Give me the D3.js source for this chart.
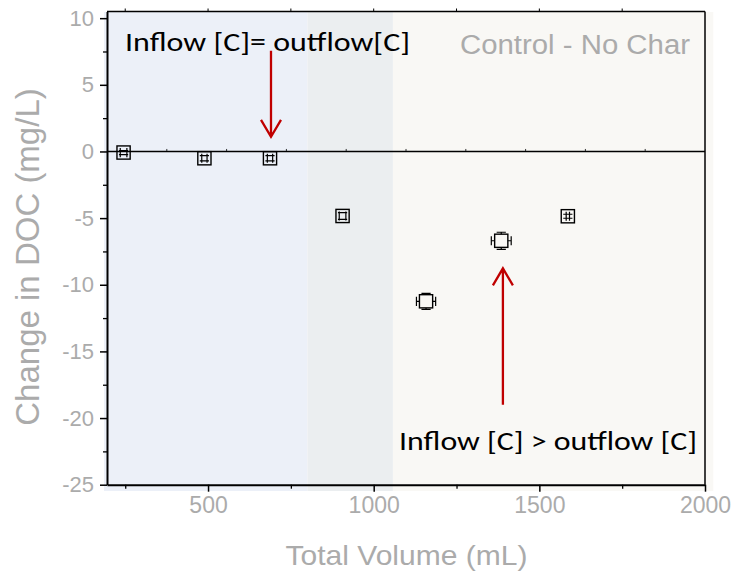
<!DOCTYPE html>
<html>
<head>
<meta charset="utf-8">
<script src="https://cdn.jsdelivr.net/npm/d3@7"></script>
<style>
  html, body { margin: 0; padding: 0; background: #ffffff; }
  svg { display: block; }
</style>
</head>
<body>
<svg id="chart" width="735" height="574"></svg>
<script>
// Measured change in dissolved organic carbon against cumulative volume
const volume     = [245, 489, 687, 906, 1158, 1385, 1586];   // mL
const volumeErr  = [10, 8, 8, 10, 29, 30, 5];
const docChange  = [-0.08, -0.51, -0.51, -4.84, -11.24, -6.7, -4.86]; // mg/L
const docErr     = [0.15, 0.2, 0.2, 0.25, 0.6, 0.64, 0.15];

const xTicks      = [500, 1000, 1500, 2000];
const xMinorTicks = [250, 750, 1250, 1750];
const yTicks      = [-25, -20, -15, -10, -5, 0, 5, 10];
const yMinorTicks = [-22.5, -17.5, -12.5, -7.5, -2.5, 2.5, 7.5];

// Shaded flow regimes along the volume axis
const zoneEdges  = [195, 800, 1058, 2025];
const zoneColors = ["#ECF0F8", "#EBEEF0", "#F9F8F5"];

const xTitle = "Total Volume (mL)";
const yTitle = "Change in DOC (mg/L)";
const panelLabel = "Control - No Char";
const noteEqual = "Inflow [C]= outflow[C]";
const noteGreater = "Inflow [C] > outflow [C]";

const svg = d3.select("#chart");
const x = d3.scaleLinear().domain([195, 2000]).range([107, 705]);
const y = d3.scaleLinear().domain([-25, 10.5]).range([484.7, 11.5]);

const grey = "#ABABAB";
const sans = "'Liberation Sans', Arial, sans-serif";
const calibri = "Carlito, Calibri, Lato, sans-serif";
const plain = d => String(d);

// background bands (slightly overhang the frame bottom and right)
svg.append("g").selectAll("rect")
  .data(zoneColors)
  .join("rect")
  .attr("x", (d, i) => i === 0 ? 104 : x(zoneEdges[i]))
  .attr("y", 12)
  .attr("width", (d, i) => x(zoneEdges[i + 1]) - (i === 0 ? 104 : x(zoneEdges[i])))
  .attr("height", 491 - 12)
  .attr("fill", d => d);

// frame: top and right edges
const [x0, x1] = x.range();
const [yb, yt] = y.range();
svg.append("line").attr("x1", x0).attr("x2", x1).attr("y1", yt).attr("y2", yt)
  .attr("stroke", "#000").attr("stroke-width", 1.5);
svg.append("line").attr("x1", x1).attr("x2", x1).attr("y1", yt).attr("y2", yb)
  .attr("stroke", "#000").attr("stroke-width", 1.5);

// small outward ticks along the top edge
svg.append("g").selectAll("line")
  .data(xTicks.concat(xMinorTicks).filter(v => v < 2000))
  .join("line")
  .attr("x1", d => x(d)).attr("x2", d => x(d))
  .attr("y1", yt).attr("y2", yt - 3)
  .attr("stroke", "#000").attr("stroke-width", 1);

// zero reference line with its own fine tick marks
svg.append("line").attr("x1", x0).attr("x2", x1).attr("y1", y(0)).attr("y2", y(0))
  .attr("stroke", "#000").attr("stroke-width", 1.6);
svg.append("g").selectAll("line")
  .data(d3.range(1, 10))
  .join("line")
  .attr("x1", i => x0 + (x1 - x0) * i / 10).attr("x2", i => x0 + (x1 - x0) * i / 10)
  .attr("y1", y(0)).attr("y2", y(0) - 2.5)
  .attr("stroke", "#000").attr("stroke-width", 0.8);

// bottom axis
const gx = svg.append("g").attr("transform", `translate(0,${yb})`)
  .call(d3.axisBottom(x).tickValues(xTicks).tickSize(7).tickSizeOuter(0).tickPadding(5)
    .tickFormat(plain));
gx.select(".domain").attr("stroke", "#000").attr("stroke-width", 2);
gx.selectAll(".tick line").attr("stroke", "#000").attr("stroke-width", 1.5);
gx.selectAll(".tick text").attr("fill", grey).attr("font-family", sans).attr("font-size", 23);
svg.append("g").attr("transform", `translate(0,${yb})`)
  .call(d3.axisBottom(x).tickValues(xMinorTicks).tickSize(4).tickFormat(""))
  .call(g => g.select(".domain").remove())
  .selectAll(".tick line").attr("stroke", "#000").attr("stroke-width", 1.3);

// left axis
const gy = svg.append("g").attr("transform", `translate(${x0},0)`)
  .call(d3.axisLeft(y).tickValues(yTicks).tickSize(7).tickSizeOuter(0).tickPadding(6)
    .tickFormat(plain));
gy.select(".domain").attr("stroke", "#000").attr("stroke-width", 2);
gy.selectAll(".tick line").attr("stroke", "#000").attr("stroke-width", 1.5);
gy.selectAll(".tick text").attr("fill", grey).attr("font-family", sans).attr("font-size", 22);
svg.append("g").attr("transform", `translate(${x0},0)`)
  .call(d3.axisLeft(y).tickValues(yMinorTicks).tickSize(4).tickFormat(""))
  .call(g => g.select(".domain").remove())
  .selectAll(".tick line").attr("stroke", "#000").attr("stroke-width", 1.3);

// axis titles
svg.append("text").text(xTitle)
  .attr("x", (x0 + x1) / 2 + 0.5).attr("y", 565).attr("text-anchor", "middle")
  .attr("fill", grey).attr("font-family", sans).attr("font-size", 28)
  .attr("textLength", 242).attr("lengthAdjust", "spacingAndGlyphs");
svg.append("text").text(yTitle)
  .attr("transform", `translate(39,257) rotate(-90)`)
  .attr("text-anchor", "middle")
  .attr("fill", grey).attr("font-family", sans).attr("font-size", 33);

// panel label
svg.append("text").text(panelLabel)
  .attr("x", 460).attr("y", 54)
  .attr("fill", grey).attr("font-family", sans).attr("font-size", 27)
  .attr("textLength", 230).attr("lengthAdjust", "spacingAndGlyphs");

// data points: open square markers; error bars start at the marker edge,
// caps always drawn (they fall inside the square when the error is small)
const pts = volume.map((v, i) => ({ v, ve: volumeErr[i], c: docChange[i], ce: docErr[i] }));
const half = 6.6, cap = 4.6;
const gp = svg.append("g").attr("stroke", "#000").attr("fill", "none").attr("stroke-width", 1.2);
const mk = gp.selectAll("g").data(pts).join("g")
  .attr("transform", d => `translate(${x(d.v)},${y(d.c)})`);
mk.append("rect").attr("x", -half).attr("y", -half).attr("width", 2 * half).attr("height", 2 * half)
  .attr("stroke-width", 1.4);
mk.append("path").attr("d", d => {
  const dx = x(d.v + d.ve) - x(d.v);
  const dy = y(d.c) - y(d.c + d.ce);
  let p = `M${-dx},${-cap}V${cap}M${dx},${-cap}V${cap}` +
          `M${-cap},${-dy}H${cap}M${-cap},${dy}H${cap}`;
  if (dx > half) p += `M${-dx},0H${-half}M${half},0H${dx}`;
  if (dy > half) p += `M0,${-dy}V${-half}M0,${half}V${dy}`;
  return p;
});

// annotations
const red = "#C00000";
function arrow(xv, yFrom, yTo) {
  const px = x(xv), p0 = y(yFrom), p1 = y(yTo);
  const dir = Math.sign(p1 - p0);
  svg.append("path")
    .attr("d", `M${px},${p0}V${p1}M${px - 10},${p1 - dir * 17}L${px},${p1}L${px + 10},${p1 - dir * 17}`)
    .attr("fill", "none").attr("stroke", red).attr("stroke-width", 2.3);
}
arrow(690, 7.55, 1.1);
arrow(1390, -19.0, -8.77);

svg.append("text").text(noteEqual)
  .attr("x", 125).attr("y", 51)
  .attr("font-family", calibri).attr("font-size", 27).attr("fill", "#000")
  .attr("textLength", 285).attr("lengthAdjust", "spacingAndGlyphs");
svg.append("text").text(noteGreater)
  .attr("x", 399).attr("y", 450)
  .attr("font-family", calibri).attr("font-size", 27).attr("fill", "#000")
  .attr("textLength", 298).attr("lengthAdjust", "spacingAndGlyphs");
</script>
</body>
</html>
